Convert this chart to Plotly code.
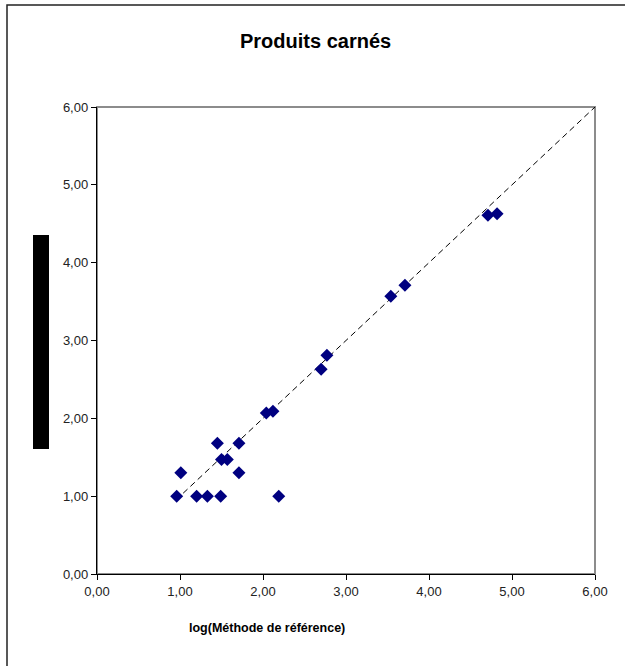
import plotly.graph_objects as go

# Data
ref_x = [0.96, 1.01, 1.20, 1.33, 1.49, 1.45, 1.50, 1.57, 1.71, 1.71, 2.19,
         2.04, 2.12, 2.70, 2.77, 3.54, 3.71, 4.71, 4.82]
alt_y = [1.00, 1.30, 1.00, 1.00, 1.00, 1.68, 1.47, 1.47, 1.68, 1.30, 1.00,
         2.07, 2.09, 2.63, 2.81, 3.57, 3.71, 4.61, 4.63]
diag_x = [0.95, 6.0]
diag_y = [0.95, 6.0]
tick_vals = [0, 1, 2, 3, 4, 5, 6]
tick_text = ["0,00", "1,00", "2,00", "3,00", "4,00", "5,00", "6,00"]

title_text = "Produits carnés"
xtitle_text = "log(Méthode de référence)"

FONT = "Liberation Sans, Arial, sans-serif"

fig = go.Figure()
fig.add_trace(go.Scatter(
    x=diag_x, y=diag_y, mode="lines",
    line=dict(color="black", width=1, dash="6px,4px"),
    hoverinfo="skip", showlegend=False,
))
fig.add_trace(go.Scatter(
    x=ref_x, y=alt_y, mode="markers",
    marker=dict(symbol="diamond", size=10, color="#000080",
                line=dict(width=0)),
    cliponaxis=False, showlegend=False,
))

W, H = 625, 666
L, R, T, B = 97, 30, 107, 92
pw, ph = W - L - R, H - T - B


def px(xp):
    return (xp - L) / pw


def py(yp):
    return (H - B - yp) / ph


axis_common = dict(
    range=[0, 6], tickvals=tick_vals, ticktext=tick_text,
    showgrid=False, zeroline=False, showline=True,
    linecolor="black", linewidth=1.2,
    ticks="outside", ticklen=5, tickcolor="black", tickwidth=1,
    tickfont=dict(family=FONT, size=13, color="#222222"),
    fixedrange=True,
)

fig.update_layout(
    width=W, height=H,
    margin=dict(l=L, r=R, t=T, b=B, pad=0),
    paper_bgcolor="white", plot_bgcolor="white",
    xaxis=axis_common,
    yaxis=axis_common,
    font=dict(family=FONT),
    shapes=[
        # outer chart frame
        dict(type="rect", xref="paper", yref="paper",
             x0=px(7), x1=px(640), y0=py(680), y1=py(5),
             line=dict(color="#222222", width=1.5), layer="below"),
        # plot area border (grey)
        dict(type="rect", xref="paper", yref="paper",
             x0=0, x1=1, y0=0, y1=1,
             line=dict(color="#8c8c8c", width=2), layer="below"),
        # redacted y-axis title block
        dict(type="rect", xref="paper", yref="paper",
             x0=px(33), x1=px(49), y0=py(449), y1=py(235),
             line=dict(width=0), fillcolor="black"),
    ],
    annotations=[
        dict(text="<b>" + title_text + "</b>", xref="paper", yref="paper",
             x=px(315), y=py(41), xanchor="center", yanchor="middle",
             showarrow=False, font=dict(family=FONT, size=20, color="black")),
        dict(text="<b>" + xtitle_text + "</b>", xref="paper", yref="paper",
             x=px(267), y=py(628), xanchor="center", yanchor="middle",
             showarrow=False, font=dict(family=FONT, size=12.5, color="black")),
    ],
)

fig.write_html(
    "out.html",
    config={"displayModeBar": False, "staticPlot": True},
    post_script="document.body.style.margin='0';document.body.style.padding='0';",
)
